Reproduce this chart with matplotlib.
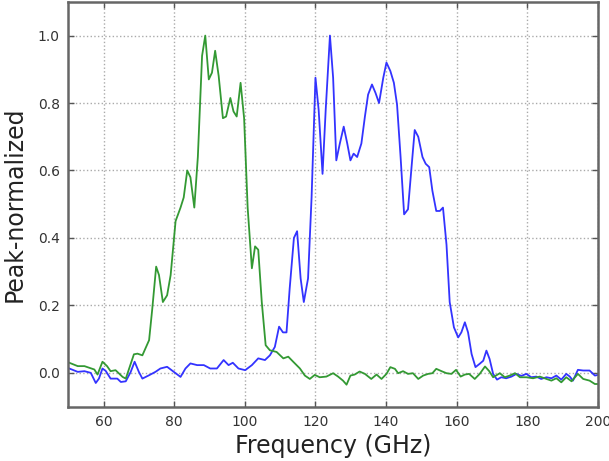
"""Peak-normalized spectra of the two bands, plotted against frequency."""

import matplotlib

matplotlib.use("Agg")
import matplotlib.pyplot as plt

# lower band (green)
freq_low = [50.3, 52.7, 54.6, 57.4, 58.3, 59.7, 61.0, 62.0, 63.4, 65.4, 66.3,
            68.6, 69.6, 71.0, 72.9, 73.8, 74.9, 75.7, 76.8, 78.0, 79.0, 80.4,
            81.8, 82.7, 83.7, 84.6, 85.7, 86.7, 87.9, 88.8, 89.8, 90.7, 91.6,
            92.6, 93.8, 94.7, 95.9, 96.8, 97.7, 98.8, 99.8, 100.8, 102.0,
            102.9, 103.8, 104.8, 105.9, 107.1, 109.0, 110.9, 112.3, 113.7,
            115.6, 117.0, 118.4, 119.8, 121.2, 123.1, 125.0, 126.4, 127.8,
            128.8, 129.9, 131.1, 132.5, 134.0, 135.8, 137.3, 138.7, 140.1,
            141.2, 142.5, 143.4, 144.8, 146.2, 147.6, 149.1, 150.5, 151.9,
            153.1, 154.2, 155.7, 157.1, 158.5, 159.8, 161.1, 162.3, 163.5,
            165.1, 166.5, 168.0, 169.2, 170.3, 172.2, 173.6, 175.0, 176.5,
            177.9, 179.7, 181.6, 183.5, 185.4, 186.8, 188.2, 189.6, 191.0,
            192.5, 194.3, 195.8, 197.6, 199.1, 200.0]
power_low = [0.03, 0.02, 0.02, 0.01, -0.005, 0.033, 0.02, 0.005, 0.008, -0.012,
             -0.017, 0.055, 0.057, 0.052, 0.097, 0.19, 0.315, 0.29, 0.21, 0.23,
             0.29, 0.45, 0.49, 0.52, 0.60, 0.58, 0.49, 0.64, 0.94, 1.0, 0.87,
             0.89, 0.955, 0.88, 0.755, 0.76, 0.815, 0.775, 0.76, 0.86, 0.755,
             0.49, 0.31, 0.375, 0.365, 0.21, 0.082, 0.067, 0.062, 0.043, 0.048,
             0.033, 0.013, -0.008, -0.018, -0.006, -0.013, -0.011, -0.001,
             -0.011, -0.023, -0.035, -0.008, -0.005, 0.004, -0.003, -0.018,
             -0.005, -0.018, -0.003, 0.017, 0.012, -0.001, 0.005, -0.003,
             -0.001, -0.018, -0.008, -0.003, -0.001, 0.012, 0.005, -0.001,
             -0.003, 0.009, -0.011, -0.005, -0.003, -0.018, -0.003, 0.019,
             0.005, -0.013, -0.001, -0.013, -0.008, -0.001, -0.013, -0.013,
             -0.016, -0.011, -0.018, -0.023, -0.016, -0.028, -0.013, -0.025,
             -0.003, -0.018, -0.023, -0.033, -0.033]

# upper band (blue)
freq_high = [50.3, 52.7, 54.6, 56.4, 57.8, 58.7, 59.7, 60.6, 62.0, 63.9, 64.9,
             66.3, 67.7, 68.8, 70.0, 71.0, 72.9, 74.7, 76.1, 78.0, 79.9, 81.8,
             83.2, 84.6, 86.5, 88.4, 90.2, 92.1, 94.0, 95.4, 96.6, 98.2, 100.1,
             102.0, 103.8, 105.7, 107.1, 108.5, 109.7, 110.8, 111.8, 112.7,
             113.9, 114.8, 115.8, 116.7, 117.9, 118.9, 120.0, 120.9, 122.0,
             122.9, 124.1, 125.0, 125.9, 126.9, 128.0, 129.0, 129.9, 130.8,
             131.8, 133.0, 134.0, 134.9, 136.0, 137.0, 138.0, 139.2, 140.1,
             141.2, 142.2, 143.1, 144.1, 145.1, 146.2, 147.2, 148.1, 149.1,
             150.3, 151.2, 152.2, 153.1, 154.2, 155.2, 156.1, 157.1, 158.0,
             159.2, 160.4, 161.3, 162.3, 163.2, 164.2, 165.3, 166.5, 167.5,
             168.4, 169.3, 170.3, 171.4, 172.6, 174.0, 175.5, 176.9, 178.3,
             179.7, 181.1, 182.5, 183.9, 185.4, 186.8, 188.2, 189.6, 191.0,
             192.0, 192.9, 194.3, 195.8, 197.6, 199.1, 200.0]
power_high = [0.013, 0.003, 0.005, 0.0, -0.03, -0.017, 0.013, 0.006, -0.017,
              -0.017, -0.027, -0.025, 0.003, 0.033, 0.003, -0.017, -0.007,
              0.003, 0.013, 0.018, 0.003, -0.012, 0.013, 0.028, 0.023, 0.023,
              0.013, 0.013, 0.038, 0.023, 0.03, 0.013, 0.008, 0.023, 0.043,
              0.038, 0.052, 0.077, 0.137, 0.12, 0.12, 0.25, 0.40, 0.42, 0.28,
              0.21, 0.28, 0.52, 0.875, 0.78, 0.59, 0.78, 1.0, 0.875, 0.63,
              0.68, 0.73, 0.68, 0.63, 0.65, 0.64, 0.68, 0.76, 0.825, 0.855,
              0.83, 0.80, 0.875, 0.92, 0.895, 0.86, 0.795, 0.64, 0.47, 0.485,
              0.61, 0.72, 0.70, 0.64, 0.62, 0.61, 0.54, 0.48, 0.48, 0.49, 0.38,
              0.21, 0.135, 0.105, 0.12, 0.15, 0.12, 0.056, 0.017, 0.027, 0.036,
              0.066, 0.041, -0.003, -0.02, -0.013, -0.016, -0.011, -0.003,
              -0.009, -0.003, -0.013, -0.011, -0.018, -0.013, -0.016, -0.008,
              -0.02, -0.003, -0.011, -0.023, 0.009, 0.007, 0.007, -0.008,
              -0.006]

x_ticks = [60, 80, 100, 120, 140, 160, 180, 200]
y_ticks = [0.0, 0.2, 0.4, 0.6, 0.8, 1.0]

fig = plt.figure(figsize=(6.09, 4.61), dpi=100)
ax = fig.add_axes([0.112, 0.118, 0.870, 0.878])

ax.plot(freq_high, power_high, color="#3333ff", lw=1.3)
ax.plot(freq_low, power_low, color="#339933", lw=1.3)

ax.set_xlim(50, 200)
ax.set_ylim(-0.1, 1.1)
ax.set_xticks(x_ticks)
ax.set_yticks(y_ticks)
ax.set_yticklabels([f"{v:.1f}" for v in y_ticks])
ax.tick_params(direction="in", length=4, width=1, colors="#555555",
               labelcolor="#333333", labelsize=10, top=True, right=True, pad=6)
ax.grid(True, linestyle=":", color="#aaaaaa", lw=1)
for side in ax.spines.values():
    side.set_color("#666666")
    side.set_linewidth(1.8)

ax.set_xlabel("Frequency (GHz)", fontsize=17, color="#222222", labelpad=4)
ax.set_ylabel("Peak-normalized", fontsize=17, color="#222222", labelpad=8)

fig.savefig("out.png", dpi=100)
